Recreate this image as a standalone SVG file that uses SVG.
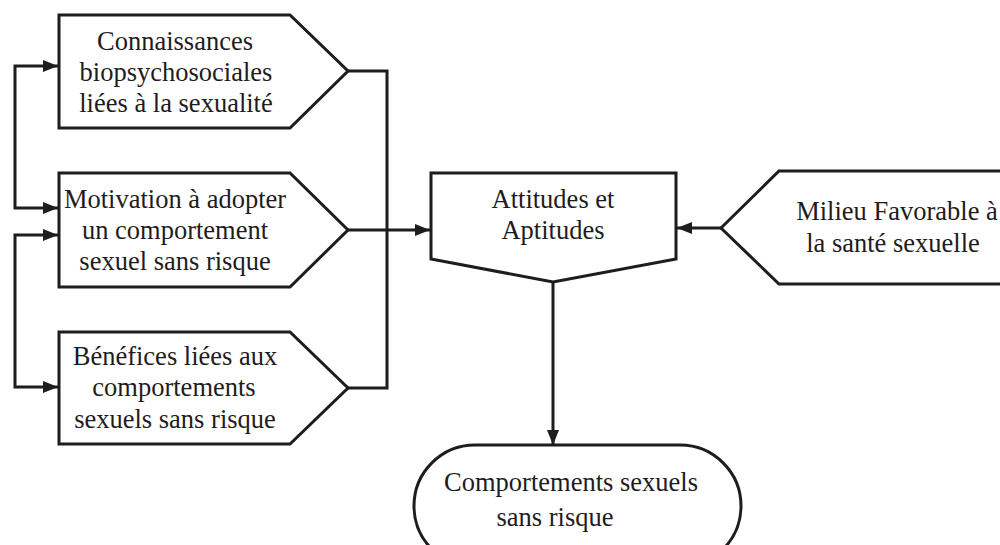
<svg xmlns="http://www.w3.org/2000/svg" width="1000" height="545" viewBox="0 0 1000 545">
<style>
.shape{fill:#fff;stroke:#1f1c1d;stroke-width:3;stroke-linejoin:miter}
.conn{fill:none;stroke:#1f1c1d;stroke-width:3}
text{font-family:"Liberation Serif","Times New Roman",serif;font-size:26.5px;fill:#1f1c1d;text-anchor:middle}
</style>
<defs>
<marker id="arr" viewBox="0 0 15 12" refX="15" refY="6" markerWidth="15" markerHeight="12" markerUnits="userSpaceOnUse" orient="auto-start-reverse">
<path d="M0,0 L15,6 L0,12 z" fill="#1f1c1d"/>
</marker>
</defs>
<rect width="1000" height="545" fill="#fff"/>
<g id="connectors">
<path class="conn" d="M58,66 H15 V208 H58" marker-start="url(#arr)" marker-end="url(#arr)"/>
<path class="conn" d="M58,235 H15 V387 H58" marker-start="url(#arr)" marker-end="url(#arr)"/>
<path class="conn" d="M348,71 H387 V388 H348"/>
<path class="conn" d="M348,230 H430" marker-end="url(#arr)"/>
<path class="conn" d="M721,228 H677" marker-end="url(#arr)"/>
<path class="conn" d="M553,282 V445" marker-end="url(#arr)"/>
</g>
<g id="connaissances">
<polygon class="shape" points="59,15 290,15 348,71 290,128 59,128"/>
<text x="175" y="50">Connaissances</text>
<text x="176" y="81">biopsychosociales</text>
<text x="176" y="112">liées à la sexualité</text>
</g>
<g id="motivation">
<polygon class="shape" points="59,173 290,173 348,230 290,287 59,287"/>
<text x="175" y="208">Motivation à adopter</text>
<text x="175" y="239">un comportement</text>
<text x="175" y="270">sexuel sans risque</text>
</g>
<g id="benefices">
<polygon class="shape" points="59,332 290,332 348,388 290,444 59,444"/>
<text x="175" y="365">Bénéfices liées aux</text>
<text x="174" y="396">comportements</text>
<text x="175" y="428">sexuels sans risque</text>
</g>
<g id="attitudes">
<polygon class="shape" points="431,173 676,173 676,259 553,282 431,259"/>
<text x="553" y="208">Attitudes et</text>
<text x="553" y="239">Aptitudes</text>
</g>
<g id="milieu">
<polygon class="shape" points="721,228 779,171 1005,171 1005,284 779,284"/>
<text x="897" y="220">Milieu Favorable à</text>
<text x="893" y="252">la santé sexuelle</text>
</g>
<g id="comportements">
<rect class="shape" x="414" y="445" width="327" height="122" rx="61" ry="61"/>
<text x="571" y="491">Comportements sexuels</text>
<text x="555" y="526">sans risque</text>
</g>
</svg>
